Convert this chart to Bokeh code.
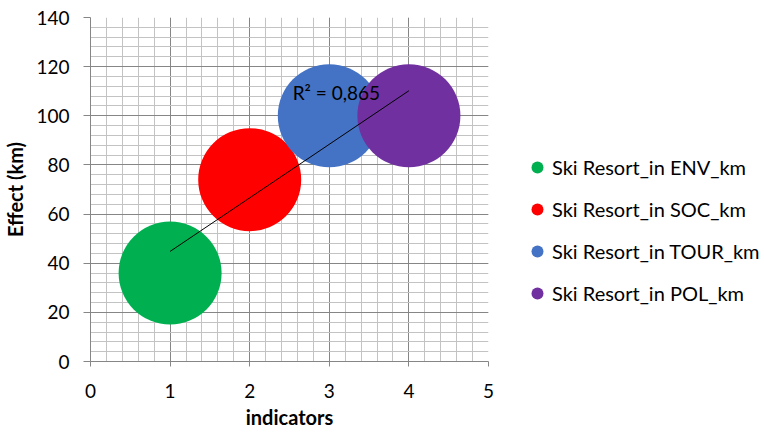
import numpy as np
from bokeh.plotting import figure
from bokeh.models import Range1d, SingleIntervalTicker, Legend, LegendItem, Label
from bokeh.embed import file_html
from bokeh.resources import INLINE

# Bubble series: one bubble per indicator
series_names = [
    "Ski Resort_in ENV_km",
    "Ski Resort_in SOC_km",
    "Ski Resort_in TOUR_km",
    "Ski Resort_in POL_km",
]
indicators = [1, 2, 3, 4]
effect_km = [36, 74, 100, 100]
colors = ["#00b050", "#ff0000", "#4472c4", "#7030a0"]

FONT = "Lato"
AXIS_GRAY = "#868686"
MINOR_GRAY = "#c3c3c3"

p = figure(
    frame_width=398, frame_height=344,
    x_range=Range1d(0, 5), y_range=Range1d(0, 140),
    output_backend="svg", toolbar_location=None,
    min_border_left=90, min_border_right=276,
    min_border_top=17, min_border_bottom=74,
)
p.outline_line_color = None
p.background_fill_color = "white"
p.border_fill_color = "white"

# Axes and ticks
p.xaxis.ticker = SingleIntervalTicker(interval=1, num_minor_ticks=5)
p.yaxis.ticker = SingleIntervalTicker(interval=20, num_minor_ticks=5)
for ax in (p.xaxis[0], p.yaxis[0]):
    ax.axis_line_color = AXIS_GRAY
    ax.major_tick_line_color = AXIS_GRAY
    ax.minor_tick_line_color = None
    ax.major_tick_in = 0
    ax.major_label_text_font = FONT
    ax.major_label_text_font_size = "19px"
    ax.major_label_text_color = "black"
    ax.axis_label_text_font = FONT
    ax.axis_label_text_font_style = "bold"
    ax.axis_label_text_font_size = "20px"
    ax.axis_label_text_color = "black"

p.xaxis.major_tick_out = 5
p.xaxis.major_label_standoff = 17
p.xaxis.axis_label = "indicators"
p.xaxis.axis_label_standoff = 4

p.yaxis.major_tick_out = 7
p.yaxis.major_label_standoff = 14
p.yaxis.axis_label = "Effect (km)"
p.yaxis.axis_label_standoff = 6

# Major + minor gridlines
for g in (p.xgrid[0], p.ygrid[0]):
    g.grid_line_color = AXIS_GRAY
    g.grid_line_width = 1
    g.minor_grid_line_color = MINOR_GRAY
    g.minor_grid_line_width = 1

# Bubbles
items = []
for name, xv, yv, c in zip(series_names, indicators, effect_km, colors):
    r = p.scatter(x=[xv], y=[yv], size=103, marker="circle",
                  fill_color=c, line_color=None)
    items.append(LegendItem(label=name, renderers=[r]))

# Linear trendline through all bubbles
slope, intercept = np.polyfit(indicators, effect_km, 1)
xs = np.array([min(indicators), max(indicators)], dtype=float)
p.line(xs, slope * xs + intercept, line_color="black", line_width=1)

pred = slope * np.array(indicators) + intercept
y_arr = np.array(effect_km, dtype=float)
r2 = 1 - np.sum((y_arr - pred) ** 2) / np.sum((y_arr - y_arr.mean()) ** 2)
p.add_layout(Label(
    x=2.54, y=109.5, text=f"R² = {r2:.3f}".replace(".", ","),
    text_font=FONT, text_font_size="19px", text_color="black",
    text_baseline="middle",
))

legend = Legend(
    items=items, location=(34, 53),
    glyph_width=30, glyph_height=30, label_height=30,
    spacing=12, padding=0, margin=0, label_standoff=-3,
    label_text_font=FONT, label_text_font_size="20px",
    label_text_color="black",
    border_line_color=None, background_fill_alpha=0,
)
p.add_layout(legend, "right")

open("out.html", "w").write(file_html(p, INLINE))
